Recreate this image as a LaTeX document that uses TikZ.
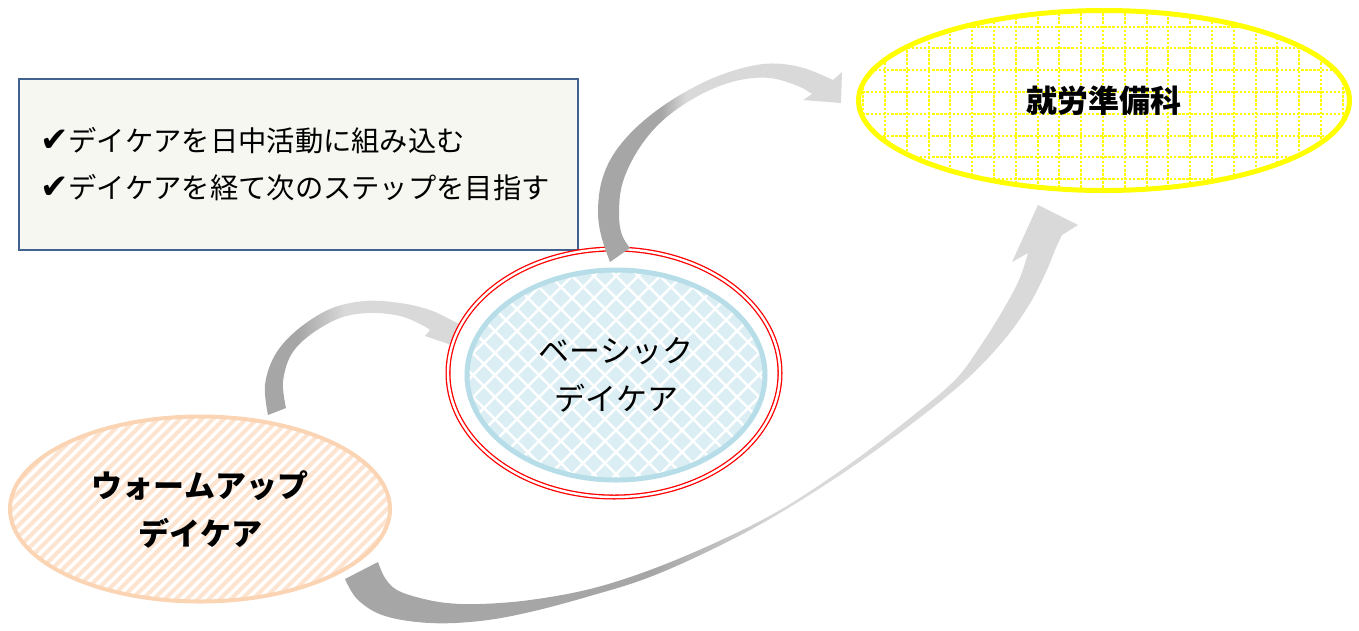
\documentclass[tikz,border=0pt]{standalone}
\usepackage{fontspec}
\newfontfamily\jp{Noto Sans CJK JP}
\newfontfamily\djv{DejaVu Sans}
\usetikzlibrary{shapes.geometric}
\definecolor{arrDark}{HTML}{A6A6A6}
\definecolor{arrLight}{HTML}{D9D9D9}
\definecolor{boxEdge}{HTML}{41618F}
\definecolor{boxFill}{HTML}{F6F7F1}
\definecolor{peachEdge}{HTML}{FBD4B4}
\definecolor{peachStripe}{HTML}{FDE4D0}
\definecolor{blueEdge}{HTML}{B7DDE8}
\definecolor{blueDiam}{HTML}{DAEEF3}
\definecolor{ylw}{HTML}{FFFF00}
\pgfdeclarehorizontalshading{shA}{100bp}{color(0bp)=(arrDark); color(33bp)=(arrDark); color(44bp)=(arrLight); color(100bp)=(arrLight)}
\pgfdeclarehorizontalshading{shB}{100bp}{color(0bp)=(arrDark); color(38bp)=(arrDark); color(43bp)=(arrLight); color(100bp)=(arrLight)}
\pgfdeclarehorizontalshading{shC}{100bp}{color(0bp)=(arrDark); color(46bp)=(arrDark); color(55bp)=(arrLight); color(100bp)=(arrLight)}
\begin{document}
\begin{tikzpicture}[x=1pt,y=-1pt,
  lblR/.style={font=\jp\fontsize{31}{48}\selectfont, align=center, text=black},
  lblB/.style={font=\jp\bfseries\fontsize{31}{48}\selectfont, align=center, text=black},
  boxtxt/.style={font=\jp\fontsize{28.3}{34}\selectfont, anchor=west, inner sep=0pt, text=black},
  oval/.style={ellipse, inner sep=0pt, outer sep=0pt},
  stripe/.style={peachStripe, line width=4pt},
  gridln/.style={ylw, line width=2pt, dash pattern=on 2.5pt off 1.6pt},
  diam/.style={fill=blueDiam}]
\useasboundingbox (0,0) rectangle (1359,630);

% text box
\node[draw=boxEdge, fill=boxFill, line width=1.5pt, minimum width=559pt, minimum height=171pt, anchor=north west, inner sep=0pt] (box) at (18,78) {};
\node[boxtxt] (line1) at (40,141) {{\djv\fontsize{34}{34}\selectfont ✔}デイケアを日中活動に組み込む};
\node[boxtxt] (line2) at (40,188) {{\djv\fontsize{34}{34}\selectfont ✔}デイケアを経て次のステップを目指す};

% arrow warm-up -> basic
\shade[shading=shA] plot[smooth, tension=0.6] coordinates {(268,415) (265,385) (275,355) (297,330) (330,309) (365,301) (400,303) (430,310) (455,322)}
  -- (478,332) -- (472,352) -- (425,336)
  -- plot[smooth, tension=0.6] coordinates {(430,330) (422,325) (400,316) (370,313) (340,318) (310,335) (291,355) (283,382) (286,408)} -- cycle;

% arrow warm-up -> prep
\shade[shading=shC] plot[smooth, tension=0.6] coordinates {(345,579) (358,600) (385,616) (430,623) (480,621) (530,612) (590,596) (650,577) (717,547) (780,513) (852,467) (918,419) (968,378) (1004,340) (1029,305) (1046,272) (1055,250) (1062,235)}
  -- (1078,225) -- (1038,205) -- (1012,262)
  -- plot[smooth, tension=0.6] coordinates {(1028,253) (1019,280) (1003,310) (981,345) (955,380) (910,418) (847,466) (780,510) (717,542) (650,570) (590,589) (530,600) (480,604) (447,603) (420,598) (397,590) (385,578) (378,562)} -- cycle;

% warm-up ellipse
\begin{scope}
\clip (200,509) ellipse [x radius=190, y radius=92.5];
\foreach \k in {0,...,56} \draw[stripe] ({-200+11*\k},612) -- ++(210,-210);
\end{scope}
\node[oval, draw=peachEdge, line width=4pt, minimum width=380pt, minimum height=185pt, lblB] (warm) at (200,509) {ウォームアップ\\デイケア};

% basic ellipse
\node[oval, draw=red, double=white, double distance=2.4pt, line width=1.3pt, fill=white, minimum width=332pt, minimum height=248pt] (basicOuter) at (614,373) {};
\begin{scope}
\clip (616,375) ellipse [x radius=149, y radius=105];
\foreach \i in {-7,...,7} \foreach \j in {-5,...,5} {
  \fill[diam] ({616+22*\i},{375+22*\j}) +(0,-9) -- +(9,0) -- +(0,9) -- +(-9,0) -- cycle;
  \fill[diam] ({627+22*\i},{386+22*\j}) +(0,-9) -- +(9,0) -- +(0,9) -- +(-9,0) -- cycle;
}
\end{scope}
\node[oval, draw=blueEdge, line width=5pt, minimum width=298pt, minimum height=210pt, lblR] (basic) at (616,375) {ベーシック\\デイケア};

% prep ellipse
\begin{scope}
\clip (1104,100.5) ellipse [x radius=245.5, y radius=90];
\foreach \k in {-3,...,22} \draw[gridln] ({885+21.8*\k},5) -- ({885+21.8*\k},200);
\foreach \k in {-1,...,8} \draw[gridln] (850,{26.5+21.8*\k}) -- (1360,{26.5+21.8*\k});
\end{scope}
\node[oval, draw=ylw, line width=5pt, minimum width=491pt, minimum height=180pt, lblB] (prep) at (1104,100.5) {就労準備科};

% arrow basic -> prep
\shade[shading=shB] plot[smooth, tension=0.6] coordinates {(610,262) (601,235) (598,210) (602,180) (615,152) (640,124) (675,98) (718,76) (763,64) (800,67) (833,80)}
  -- (842,72) -- (841,103) -- (803,100)
  -- plot[smooth, tension=0.6] coordinates {(812,94) (798,86) (770,78) (740,80) (710,90) (680,107) (655,128) (635,155) (622,185) (619,215) (622,235) (630,248)} -- cycle;
\end{tikzpicture}
\end{document}
